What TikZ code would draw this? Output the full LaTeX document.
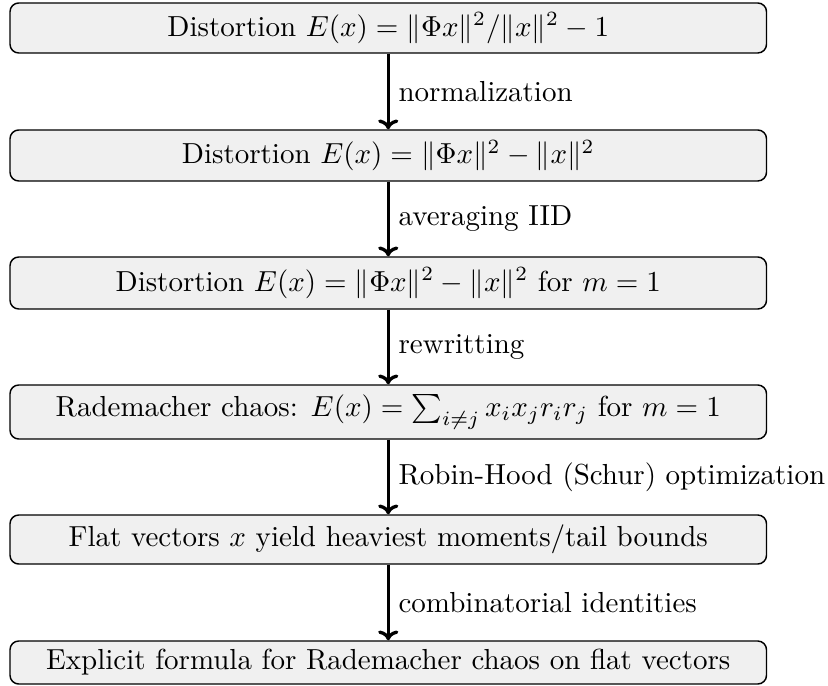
\documentclass[tikz,border=0pt]{standalone}
\usetikzlibrary{arrows.meta}
\def\pxu{0.345}
\begin{document}
\begin{tikzpicture}[x=\pxu pt,y=-\pxu pt,
  stepbox/.style={draw=black, line width=0.5pt, fill=black!6, rounded corners=3pt,
    minimum width=756.5*\pxu pt, inner sep=0pt, anchor=center},
  flow/.style={line width=1.15pt, -{To[length=3.4pt,width=7pt]}},
  lab/.style={midway, right, inner sep=3pt}]
\useasboundingbox (0,0) rectangle (828,685);
\node[stepbox, minimum height=50*\pxu pt] (b1) at (388.25,28) {Distortion $E(x) = \|\Phi x\|^2/\|x\|^2 - 1$};
\node[stepbox, minimum height=51*\pxu pt] (b2) at (388.25,155.5) {Distortion $E(x) = \|\Phi x\|^2 - \|x\|^2$};
\node[stepbox, minimum height=52*\pxu pt] (b3) at (388.25,283) {Distortion $E(x) = \|\Phi x\|^2 - \|x\|^2$ for $m=1$};
\node[stepbox, minimum height=54*\pxu pt] (b4) at (388.25,412) {Rademacher chaos: $E(x) = \sum_{i\neq j} x_i x_j r_i r_j$ for $m=1$};
\node[stepbox, minimum height=49*\pxu pt] (b5) at (388.25,539.5) {Flat vectors $x$ yield heaviest moments/tail bounds};
\node[stepbox, minimum height=43*\pxu pt] (b6) at (388.25,662.5) {Explicit formula for Rademacher chaos on flat vectors};
\draw[flow] (b1.south) -- (b2.north) node[lab] {normalization};
\draw[flow] (b2.south) -- (b3.north) node[lab] {averaging IID};
\draw[flow] (b3.south) -- (b4.north) node[lab] {rewritting};
\draw[flow] (b4.south) -- (b5.north) node[lab] {Robin-Hood (Schur) optimization};
\draw[flow] (b5.south) -- (b6.north) node[lab] {combinatorial identities};
\end{tikzpicture}
\end{document}
